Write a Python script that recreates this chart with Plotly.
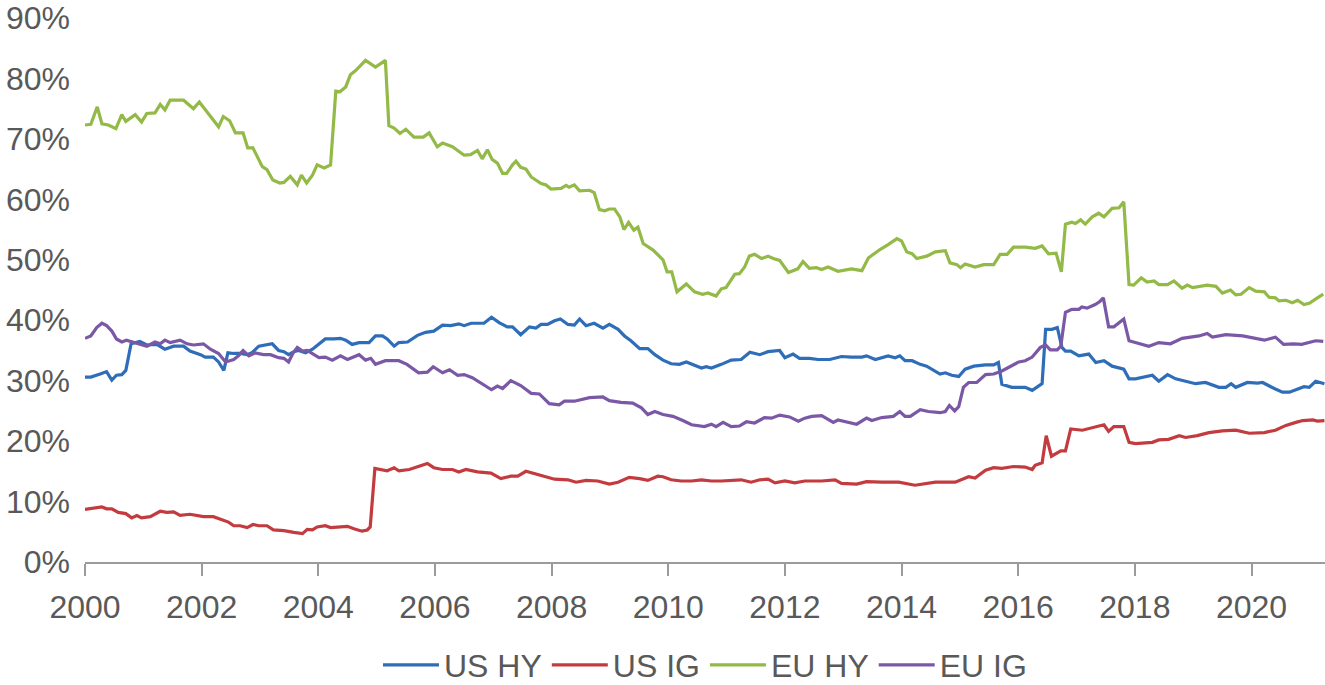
import plotly.graph_objects as go

# ---- data (decimal years, % share) ----
us_hy_x = [2000.00, 2000.10, 2000.26, 2000.37, 2000.46, 2000.54, 2000.63, 2000.70, 2000.79, 2000.86, 2000.94, 2001.06, 2001.23, 2001.37, 2001.52, 2001.69, 2001.80, 2001.98, 2002.06, 2002.20, 2002.29, 2002.38, 2002.45, 2002.55, 2002.66, 2002.78, 2002.86, 2002.98, 2003.12, 2003.21, 2003.32, 2003.41, 2003.49, 2003.58, 2003.66, 2003.78, 2003.90, 2004.01, 2004.12, 2004.27, 2004.38, 2004.47, 2004.58, 2004.70, 2004.87, 2004.98, 2005.10, 2005.18, 2005.30, 2005.38, 2005.53, 2005.70, 2005.84, 2005.98, 2006.13, 2006.27, 2006.41, 2006.50, 2006.62, 2006.84, 2006.97, 2007.10, 2007.24, 2007.33, 2007.47, 2007.62, 2007.73, 2007.82, 2007.93, 2008.05, 2008.15, 2008.28, 2008.39, 2008.48, 2008.59, 2008.73, 2008.88, 2008.99, 2009.14, 2009.25, 2009.36, 2009.51, 2009.65, 2009.77, 2009.91, 2010.05, 2010.19, 2010.31, 2010.42, 2010.57, 2010.65, 2010.74, 2010.91, 2011.08, 2011.25, 2011.40, 2011.57, 2011.71, 2011.91, 2012.00, 2012.14, 2012.25, 2012.42, 2012.57, 2012.77, 2012.97, 2013.14, 2013.32, 2013.40, 2013.55, 2013.77, 2013.89, 2013.97, 2014.06, 2014.18, 2014.32, 2014.43, 2014.55, 2014.66, 2014.75, 2014.86, 2014.98, 2015.09, 2015.24, 2015.44, 2015.58, 2015.66, 2015.72, 2015.89, 2016.12, 2016.24, 2016.41, 2016.47, 2016.58, 2016.67, 2016.75, 2016.81, 2016.90, 2017.04, 2017.21, 2017.33, 2017.47, 2017.61, 2017.81, 2017.90, 2018.01, 2018.30, 2018.41, 2018.56, 2018.70, 2018.84, 2019.04, 2019.21, 2019.44, 2019.56, 2019.65, 2019.73, 2019.93, 2020.10, 2020.19, 2020.39, 2020.53, 2020.65, 2020.82, 2020.90, 2020.99, 2021.10, 2021.25]
us_hy_y = [30.6, 30.6, 31.1, 31.5, 30.1, 30.9, 31.0, 31.7, 36.1, 36.3, 36.5, 35.9, 36.0, 35.2, 35.7, 35.7, 34.9, 34.3, 33.9, 33.9, 33.1, 31.7, 34.6, 34.5, 34.5, 34.3, 34.6, 35.7, 36.0, 36.1, 35.0, 34.8, 34.3, 34.8, 35.0, 34.6, 35.2, 36.0, 36.9, 36.9, 37.0, 36.7, 36.0, 36.3, 36.3, 37.4, 37.4, 36.9, 35.7, 36.3, 36.4, 37.5, 38.0, 38.2, 39.2, 39.1, 39.4, 39.1, 39.5, 39.5, 40.5, 39.6, 38.9, 38.9, 37.6, 38.9, 38.7, 39.3, 39.3, 39.9, 40.2, 39.3, 39.2, 40.2, 39.1, 39.5, 38.7, 39.3, 38.5, 37.4, 36.6, 35.3, 35.3, 34.3, 33.4, 32.8, 32.7, 33.1, 32.7, 32.1, 32.3, 32.1, 32.7, 33.4, 33.5, 34.7, 34.3, 34.8, 35.0, 33.8, 34.4, 33.7, 33.7, 33.5, 33.5, 34.0, 33.9, 33.9, 34.1, 33.5, 34.1, 33.8, 34.1, 33.3, 33.3, 32.7, 32.4, 31.7, 31.1, 31.3, 30.9, 30.7, 31.9, 32.4, 32.6, 32.6, 33.0, 29.4, 28.9, 28.9, 28.4, 29.5, 38.5, 38.5, 38.8, 35.5, 34.9, 34.9, 34.1, 34.4, 33.0, 33.3, 32.4, 31.9, 30.3, 30.3, 30.9, 29.9, 31.0, 30.3, 30.0, 29.5, 29.7, 28.9, 28.9, 29.5, 28.9, 29.7, 29.6, 29.7, 28.7, 28.1, 28.1, 28.7, 29.0, 28.9, 29.9, 29.5]

us_ig_x = [2000.00, 2000.20, 2000.29, 2000.37, 2000.46, 2000.57, 2000.70, 2000.80, 2000.89, 2000.97, 2001.12, 2001.29, 2001.40, 2001.52, 2001.63, 2001.80, 2002.03, 2002.20, 2002.35, 2002.46, 2002.55, 2002.66, 2002.78, 2002.88, 2002.98, 2003.12, 2003.23, 2003.41, 2003.58, 2003.73, 2003.81, 2003.90, 2003.98, 2004.12, 2004.21, 2004.38, 2004.50, 2004.61, 2004.75, 2004.84, 2004.89, 2004.97, 2005.07, 2005.18, 2005.30, 2005.38, 2005.56, 2005.70, 2005.87, 2005.98, 2006.13, 2006.30, 2006.41, 2006.53, 2006.73, 2006.96, 2007.13, 2007.30, 2007.42, 2007.56, 2007.70, 2007.87, 2008.05, 2008.28, 2008.42, 2008.59, 2008.79, 2008.99, 2009.14, 2009.33, 2009.51, 2009.65, 2009.82, 2009.91, 2010.05, 2010.22, 2010.40, 2010.57, 2010.74, 2010.91, 2011.08, 2011.25, 2011.42, 2011.57, 2011.71, 2011.83, 2012.00, 2012.17, 2012.34, 2012.63, 2012.86, 2012.97, 2013.23, 2013.40, 2013.66, 2013.95, 2014.23, 2014.58, 2014.92, 2015.15, 2015.26, 2015.44, 2015.58, 2015.72, 2015.92, 2016.12, 2016.24, 2016.29, 2016.41, 2016.48, 2016.57, 2016.73, 2016.81, 2016.90, 2017.10, 2017.27, 2017.47, 2017.55, 2017.64, 2017.81, 2017.90, 2018.01, 2018.30, 2018.41, 2018.58, 2018.76, 2018.87, 2019.07, 2019.27, 2019.50, 2019.73, 2019.96, 2020.22, 2020.41, 2020.59, 2020.76, 2020.88, 2021.05, 2021.13, 2021.25]
us_ig_y = [8.7, 8.9, 9.1, 8.8, 8.8, 8.2, 8.0, 7.3, 7.7, 7.3, 7.5, 8.4, 8.2, 8.3, 7.7, 7.9, 7.5, 7.5, 7.0, 6.6, 6.0, 6.0, 5.7, 6.2, 6.0, 6.0, 5.3, 5.2, 4.9, 4.7, 5.4, 5.3, 5.8, 6.0, 5.7, 5.8, 5.9, 5.5, 5.1, 5.3, 5.8, 15.5, 15.3, 15.1, 15.6, 15.1, 15.3, 15.7, 16.3, 15.6, 15.3, 15.3, 14.9, 15.3, 14.9, 14.7, 13.8, 14.2, 14.2, 15.0, 14.6, 14.2, 13.7, 13.6, 13.2, 13.5, 13.4, 12.9, 13.2, 14.0, 13.8, 13.5, 14.2, 14.1, 13.6, 13.4, 13.4, 13.6, 13.4, 13.4, 13.5, 13.6, 13.2, 13.6, 13.7, 13.1, 13.4, 13.1, 13.4, 13.4, 13.6, 13.0, 12.9, 13.3, 13.2, 13.2, 12.7, 13.2, 13.2, 14.1, 13.9, 15.2, 15.6, 15.5, 15.8, 15.7, 15.3, 16.0, 16.4, 20.9, 17.5, 18.4, 18.4, 22.0, 21.8, 22.2, 22.7, 21.6, 22.4, 22.4, 19.8, 19.6, 19.8, 20.2, 20.3, 20.9, 20.6, 20.9, 21.4, 21.7, 21.8, 21.3, 21.4, 21.8, 22.6, 23.1, 23.4, 23.5, 23.3, 23.4]

eu_hy_x = [2000.00, 2000.10, 2000.21, 2000.29, 2000.40, 2000.53, 2000.63, 2000.70, 2000.86, 2000.97, 2001.06, 2001.20, 2001.29, 2001.37, 2001.46, 2001.69, 2001.86, 2001.96, 2002.09, 2002.29, 2002.37, 2002.48, 2002.58, 2002.71, 2002.79, 2002.88, 2003.04, 2003.12, 2003.22, 2003.34, 2003.41, 2003.52, 2003.64, 2003.71, 2003.80, 2003.90, 2003.98, 2004.10, 2004.21, 2004.30, 2004.37, 2004.47, 2004.55, 2004.64, 2004.81, 2004.98, 2005.15, 2005.21, 2005.30, 2005.40, 2005.50, 2005.64, 2005.80, 2005.90, 2006.04, 2006.13, 2006.30, 2006.50, 2006.61, 2006.73, 2006.81, 2006.90, 2006.98, 2007.07, 2007.16, 2007.23, 2007.33, 2007.39, 2007.47, 2007.56, 2007.65, 2007.73, 2007.82, 2007.90, 2007.99, 2008.16, 2008.25, 2008.30, 2008.39, 2008.48, 2008.65, 2008.73, 2008.82, 2008.91, 2008.99, 2009.08, 2009.17, 2009.24, 2009.32, 2009.41, 2009.48, 2009.57, 2009.74, 2009.91, 2009.98, 2010.06, 2010.15, 2010.31, 2010.45, 2010.59, 2010.68, 2010.82, 2010.91, 2010.99, 2011.14, 2011.22, 2011.31, 2011.39, 2011.48, 2011.60, 2011.71, 2011.80, 2011.91, 2012.06, 2012.22, 2012.31, 2012.42, 2012.54, 2012.63, 2012.74, 2012.91, 2013.14, 2013.32, 2013.43, 2013.63, 2013.77, 2013.92, 2014.00, 2014.09, 2014.18, 2014.26, 2014.43, 2014.58, 2014.75, 2014.83, 2014.95, 2015.01, 2015.09, 2015.26, 2015.41, 2015.58, 2015.69, 2015.81, 2015.92, 2016.12, 2016.29, 2016.41, 2016.52, 2016.65, 2016.74, 2016.81, 2016.92, 2016.98, 2017.07, 2017.15, 2017.27, 2017.38, 2017.47, 2017.61, 2017.73, 2017.81, 2017.90, 2017.98, 2018.11, 2018.21, 2018.33, 2018.41, 2018.56, 2018.67, 2018.81, 2018.90, 2018.99, 2019.24, 2019.39, 2019.50, 2019.64, 2019.73, 2019.82, 2019.96, 2020.07, 2020.22, 2020.30, 2020.41, 2020.47, 2020.59, 2020.70, 2020.79, 2020.90, 2020.99, 2021.13, 2021.23]
eu_hy_y = [72.3, 72.4, 75.3, 72.5, 72.3, 71.7, 74.0, 72.9, 74.0, 72.8, 74.2, 74.3, 75.7, 74.8, 76.4, 76.4, 75.0, 76.1, 74.5, 72.0, 73.7, 73.0, 71.0, 71.0, 68.5, 68.5, 65.4, 64.9, 63.2, 62.7, 62.8, 63.8, 62.4, 64.0, 62.7, 64.0, 65.7, 65.2, 65.7, 77.9, 77.8, 78.6, 80.6, 81.3, 83.0, 81.9, 83.0, 72.2, 71.8, 70.9, 71.6, 70.3, 70.3, 71.0, 68.7, 69.3, 68.7, 67.3, 67.4, 68.1, 66.7, 68.2, 66.6, 66.0, 64.3, 64.3, 65.7, 66.3, 65.3, 65.0, 63.7, 63.2, 62.6, 62.4, 61.7, 61.8, 62.3, 62.0, 62.4, 61.4, 61.5, 61.1, 58.3, 58.1, 58.4, 58.4, 57.1, 55.0, 56.2, 54.9, 55.4, 52.7, 51.6, 50.0, 48.0, 48.0, 44.7, 46.0, 44.7, 44.3, 44.5, 44.0, 45.2, 45.4, 47.6, 47.7, 48.8, 50.6, 50.9, 50.2, 50.6, 50.2, 49.9, 47.9, 48.5, 49.7, 48.6, 48.7, 48.4, 48.8, 48.1, 48.5, 48.2, 50.3, 51.7, 52.5, 53.5, 53.1, 51.3, 51.0, 50.2, 50.6, 51.3, 51.5, 49.5, 49.2, 48.7, 49.3, 48.8, 49.2, 49.2, 50.9, 50.9, 52.1, 52.1, 51.9, 52.3, 51.0, 51.1, 48.0, 55.9, 56.2, 56.0, 56.6, 55.9, 57.1, 57.7, 57.1, 58.5, 58.6, 59.6, 45.9, 45.8, 47.0, 46.3, 46.5, 45.9, 45.9, 46.5, 45.3, 45.8, 45.4, 45.8, 45.6, 44.5, 45.0, 44.2, 44.3, 45.4, 44.8, 44.7, 43.8, 43.7, 43.2, 43.3, 42.9, 43.3, 42.6, 42.8, 43.7, 44.3]

eu_ig_x = [2000.00, 2000.10, 2000.20, 2000.29, 2000.37, 2000.46, 2000.54, 2000.63, 2000.71, 2000.83, 2000.94, 2001.06, 2001.20, 2001.29, 2001.37, 2001.46, 2001.63, 2001.75, 2001.86, 2002.03, 2002.15, 2002.29, 2002.41, 2002.55, 2002.63, 2002.71, 2002.81, 2002.92, 2003.06, 2003.18, 2003.32, 2003.41, 2003.49, 2003.57, 2003.64, 2003.73, 2003.81, 2003.90, 2004.01, 2004.12, 2004.24, 2004.38, 2004.50, 2004.70, 2004.81, 2004.90, 2004.98, 2005.15, 2005.38, 2005.52, 2005.72, 2005.87, 2005.97, 2006.13, 2006.25, 2006.39, 2006.50, 2006.64, 2006.81, 2006.97, 2007.07, 2007.16, 2007.30, 2007.47, 2007.65, 2007.79, 2007.96, 2008.13, 2008.22, 2008.39, 2008.65, 2008.88, 2008.99, 2009.19, 2009.39, 2009.54, 2009.65, 2009.77, 2009.91, 2010.08, 2010.25, 2010.40, 2010.62, 2010.74, 2010.82, 2010.94, 2011.08, 2011.22, 2011.34, 2011.48, 2011.65, 2011.77, 2011.91, 2012.08, 2012.23, 2012.34, 2012.46, 2012.63, 2012.83, 2012.91, 2013.23, 2013.40, 2013.49, 2013.66, 2013.86, 2013.97, 2014.06, 2014.15, 2014.32, 2014.46, 2014.66, 2014.75, 2014.82, 2014.91, 2014.98, 2015.06, 2015.15, 2015.29, 2015.44, 2015.58, 2015.72, 2015.89, 2016.01, 2016.12, 2016.24, 2016.38, 2016.47, 2016.55, 2016.67, 2016.73, 2016.81, 2016.92, 2017.04, 2017.09, 2017.18, 2017.32, 2017.40, 2017.46, 2017.55, 2017.64, 2017.81, 2017.90, 2018.01, 2018.24, 2018.41, 2018.61, 2018.81, 2019.10, 2019.24, 2019.33, 2019.56, 2019.85, 2020.22, 2020.41, 2020.55, 2020.72, 2020.86, 2021.10, 2021.23]
eu_ig_y = [37.0, 37.4, 38.8, 39.5, 39.1, 38.2, 36.9, 36.4, 36.7, 36.4, 36.1, 35.7, 36.4, 36.1, 36.7, 36.3, 36.7, 36.1, 35.9, 36.1, 35.2, 34.5, 33.1, 33.5, 34.1, 35.0, 34.1, 34.6, 34.3, 34.3, 33.8, 33.7, 33.1, 34.6, 35.5, 34.9, 35.0, 34.4, 33.8, 33.9, 33.4, 34.1, 33.5, 34.3, 33.4, 33.7, 32.7, 33.3, 33.3, 32.7, 31.3, 31.4, 32.3, 31.3, 31.8, 30.9, 31.0, 30.5, 29.4, 28.5, 29.1, 28.7, 30.0, 29.2, 27.9, 27.8, 26.2, 26.0, 26.6, 26.6, 27.2, 27.3, 26.7, 26.4, 26.3, 25.5, 24.4, 24.9, 24.4, 24.1, 23.4, 22.7, 22.4, 22.8, 22.4, 23.1, 22.4, 22.5, 23.2, 23.0, 23.9, 23.8, 24.3, 24.0, 23.3, 23.8, 24.1, 24.2, 23.1, 23.5, 22.8, 23.8, 23.4, 23.9, 24.1, 24.9, 24.1, 24.1, 25.2, 24.9, 24.7, 24.9, 25.9, 25.0, 25.7, 28.9, 29.7, 29.7, 31.0, 31.1, 31.6, 32.4, 33.1, 33.3, 33.9, 35.5, 35.9, 35.1, 35.1, 35.7, 41.3, 41.8, 41.8, 42.2, 42.0, 42.6, 43.1, 43.7, 38.9, 38.9, 40.2, 36.6, 36.3, 35.7, 36.3, 36.1, 37.0, 37.4, 37.8, 37.2, 37.6, 37.4, 36.7, 37.2, 36.0, 36.1, 36.0, 36.6, 36.5]

series_names = ["US HY", "US IG", "EU HY", "EU IG"]
series_colors = ["#2E6DB8", "#C33B3E", "#93B946", "#7B58A6"]
x_ticks = [2000, 2002, 2004, 2006, 2008, 2010, 2012, 2014, 2016, 2018, 2020]
y_ticks = [0, 10, 20, 30, 40, 50, 60, 70, 80, 90]

FONT = "Liberation Sans, Arial, sans-serif"
TXT = "#595959"
FS = 32

fig = go.Figure()
for name, xs, ys, col in zip(series_names,
                             [us_hy_x, us_ig_x, eu_hy_x, eu_ig_x],
                             [us_hy_y, us_ig_y, eu_hy_y, eu_ig_y],
                             series_colors):
    fig.add_trace(go.Scatter(x=xs, y=ys, name=name, mode="lines",
                             line=dict(color=col, width=3.2)))

fig.update_layout(
    width=1325, height=685,
    paper_bgcolor="white", plot_bgcolor="white",
    margin=dict(l=85, r=0, t=16, b=123),
    font=dict(family=FONT, size=FS, color=TXT),
    showlegend=True,
    legend=dict(orientation="h", xref="paper", x=0.5, xanchor="center",
                yref="container", y=0.029, yanchor="middle",
                font=dict(family=FONT, size=FS, color=TXT), itemwidth=56,
                bgcolor="rgba(0,0,0,0)"),
)
fig.update_xaxes(range=[2000, 2021.26], tickvals=x_ticks, ticktext=[str(t) for t in x_ticks],
                 showgrid=False, zeroline=False, showline=True, linecolor="#9B9B9B", linewidth=1.5,
                 ticks="outside", ticklen=12, tickwidth=1.5, tickcolor="#9B9B9B",
                 tickfont=dict(family=FONT, size=FS, color=TXT), ticklabelstandoff=4)
fig.update_yaxes(range=[0, 90], tickvals=y_ticks, ticktext=[f"{t}%" for t in y_ticks],
                 showgrid=False, zeroline=False, showline=False, ticks="",
                 ticklabeloverflow="allow",
                 tickfont=dict(family=FONT, size=FS, color=TXT), ticklabelstandoff=14)

fig.write_html("out.html")
